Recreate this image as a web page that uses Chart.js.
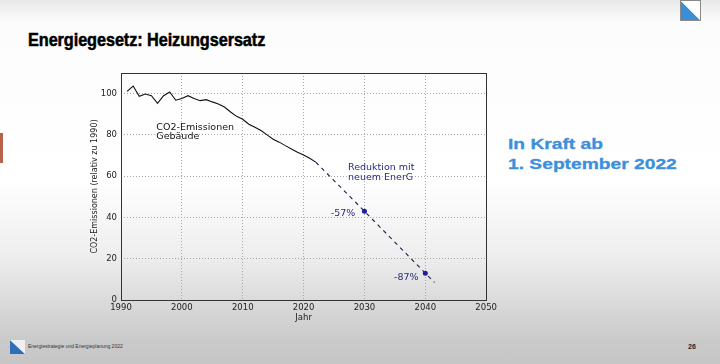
<!DOCTYPE html>
<html>
<head>
<meta charset="utf-8">
<script src="https://cdn.jsdelivr.net/npm/chart.js@4/dist/chart.umd.min.js"></script>
<style>
  html, body { margin:0; padding:0; }
  body {
    width:720px; height:364px; overflow:hidden; position:relative;
    background: linear-gradient(to bottom, #e9e9e9 0px, #fcfcfc 22px, #ffffff 180px, #eeeeee 255px, #d9d9d9 305px, #cacaca 340px, #c6c6c6 364px);
    font-family: "Liberation Sans", Arial, sans-serif;
  }
  #title {
    position:absolute; left:28px; top:29px; font-weight:bold; font-size:18.5px; color:#000;
    transform: scaleX(0.88); transform-origin: left top; white-space:nowrap; letter-spacing:-0.1px;
    -webkit-text-stroke: 0.5px #000;
  }
  #inkraft {
    position:absolute; left:508px; top:134px; font-weight:bold; font-size:15.5px; color:#3b8fdb;
    line-height:20px; transform: scaleX(1.24); transform-origin: left top; white-space:nowrap;
    -webkit-text-stroke: 0.3px #3b8fdb;
  }
  #footer { position:absolute; left:28px; top:343px; font-size:6px; color:#333; white-space:nowrap; transform: scaleX(0.83); transform-origin:left top; }
  #page { position:absolute; left:688px; top:343px; font-size:7px; font-weight:bold; color:#222; }
  #leftbar { position:absolute; left:0; top:133px; width:3px; height:30px; background:#b5634a; }
  #wrap { position:absolute; left:85px; top:60px; width:415px; height:270px; }
</style>
</head>
<body>
<div id="leftbar"></div>
<svg style="position:absolute;left:680px;top:0" width="21" height="21">
  <polygon points="0.5,0.5 20.5,20.5 0.5,20.5" fill="#3a8fd6"/>
  <polygon points="0.5,0.5 20.5,0.5 20.5,20.5" fill="#ffffff"/>
  <rect x="0.5" y="0.5" width="20" height="20" fill="none" stroke="#8a8a8a" stroke-width="1"/>
</svg>
<div id="title">Energiegesetz: Heizungsersatz</div>
<div id="inkraft">In Kraft ab<br>1. September 2022</div>
<svg style="position:absolute;left:10px;top:340px" width="15" height="14">
  <polygon points="0,0 15,14 0,14" fill="#2f6fb8"/>
  <polygon points="0,0 15,0 15,14" fill="#f0f0f0"/>
</svg>
<div id="footer">Energiestrategie und Energieplanung 2022</div>
<div id="page">26</div>
<div id="wrap"><canvas id="c"></canvas></div>
<script>
// ---- data ----
const years = [1991,1992,1993,1994,1995,1996,1997,1998,1999,2000,2001,2002,2003,2004,2005,2006,2007,2008,2009,2010,2011,2012,2013,2014,2015,2016,2017,2018,2019,2020,2021,2022];
const emissions = [101.1,103.7,98.7,99.8,99.0,95.3,99.0,100.8,96.8,97.6,99.0,97.6,96.6,97.1,96.0,95.0,93.5,91.1,89.0,87.6,85.2,83.7,82.1,80.0,77.9,76.5,74.8,73.2,71.6,70.3,68.7,66.8];
const forecastYears = [2022, 2030, 2040, 2041.5];
const forecastValues = [66.8, 43, 13, 8.5];
const forecastMarkers = [0, 2.5, 2.5, 0];
const xTicks = [1990, 2000, 2010, 2020, 2030, 2040, 2050];
const yTicks = [0, 20, 40, 60, 80, 100];
const annotationTexts = [["CO2-Emissionen","Gebäude"], ["Reduktion mit","neuem EnerG"], ["-57%"], ["-87%"]];
const annotationX = [1995.8, 2027.3, 2028.5, 2038.9];
const annotationY = [83.8, 64.0, 42.0, 11.0];
const annotationAlign = ["left", "left", "right", "right"];
const annotationColors = ["#111111", "#2a2a80", "#2a2a80", "#2a2a80"];
const xTitle = "Jahr";
const yTitle = "CO2-Emissionen (relativ zu 1990)";

const FONT = "'DejaVu Sans', sans-serif";

const boxPlugin = {
  id: 'box',
  afterDatasetsDraw(chart) {
    const {ctx, chartArea: a} = chart;
    ctx.save();
    ctx.strokeStyle = '#333';
    ctx.lineWidth = 1;
    ctx.strokeRect(Math.round(a.left)+0.5, Math.round(a.top)+0.5, Math.round(a.right-a.left), Math.round(a.bottom-a.top));
    ctx.restore();
  }
};
const annotPlugin = {
  id: 'annot',
  afterDatasetsDraw(chart) {
    const {ctx, scales:{x, y}} = chart;
    ctx.save();
    ctx.font = "9.5px " + FONT;
    ctx.textBaseline = 'middle';
    annotationTexts.forEach((lines, i) => {
      const px = x.getPixelForValue(annotationX[i]);
      const py = y.getPixelForValue(annotationY[i]);
      ctx.fillStyle = annotationColors[i];
      ctx.textAlign = annotationAlign[i];
      lines.forEach((t, j) => ctx.fillText(t, px, py + j * 9.8));
    });
    ctx.restore();
  }
};

new Chart(document.getElementById('c'), {
  type: 'scatter',
  data: {
    datasets: [
      {
        data: years.map((yr, i) => ({x: yr, y: emissions[i]})),
        showLine: true, borderColor: '#111', borderWidth: 1.1, pointRadius: 0, tension: 0, fill: false
      },
      {
        data: forecastYears.map((yr, i) => ({x: yr, y: forecastValues[i]})),
        showLine: true, borderColor: '#1c1c50', borderWidth: 1.1, borderDash: [4, 4],
        pointRadius: forecastMarkers, pointBackgroundColor: '#1d1d9e', pointBorderColor: '#1d1d9e', pointBorderWidth: 0,
        tension: 0, fill: false
      }
    ]
  },
  options: {
    responsive: true, maintainAspectRatio: false, animation: false,
    layout: { padding: { left: 0, top: 13, right: 11, bottom: 0 } },
    plugins: { legend: { display: false }, tooltip: { enabled: false } },
    scales: {
      x: {
        type: 'linear', min: 1990, max: 2050,
        afterBuildTicks: s => { s.ticks = xTicks.map(v => ({value: v})); },
        afterFit: s => { s.height = 30; },
        grid: { color: '#a8a8a8', drawTicks: false, lineWidth: 1 },
        border: { display: false, dash: [1, 2] },
        ticks: { padding: 3, color: '#222', font: { family: FONT, size: 8.5 }, maxRotation: 0, callback: v => String(v) },
        title: { display: true, text: xTitle, color: '#222', font: { family: FONT, size: 8.5 }, padding: { top: 0, bottom: 7 } }
      },
      y: {
        type: 'linear', min: 0, max: 110,
        afterBuildTicks: s => { s.ticks = yTicks.map(v => ({value: v})); },
        afterFit: s => { s.width = 36; },
        grid: { color: '#a8a8a8', drawTicks: false, lineWidth: 1 },
        border: { display: false, dash: [1, 2] },
        ticks: { padding: 4, color: '#222', font: { family: FONT, size: 8.5 }, callback: v => String(v) },
        title: { display: true, text: yTitle, color: '#222', font: { family: FONT, size: 8 }, padding: { top: 5, bottom: 0 } }
      }
    }
  },
  plugins: [boxPlugin, annotPlugin]
});
</script>
</body>
</html>
